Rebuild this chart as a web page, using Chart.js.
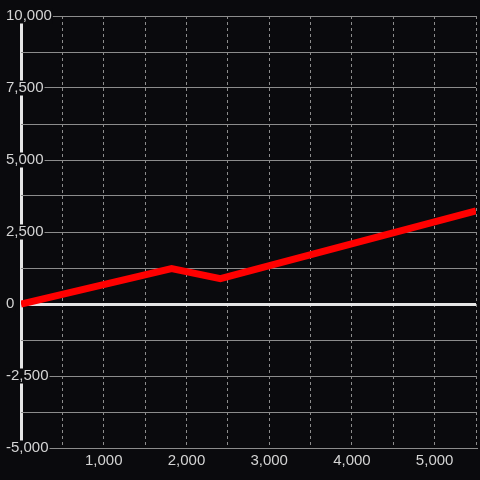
<!DOCTYPE html>
<html>
<head>
<meta charset="utf-8">
<script src="https://cdn.jsdelivr.net/npm/chart.js@4.4.0/dist/chart.umd.min.js"></script>
<style>
  html, body { margin: 0; padding: 0; background: #0a0a0d; }
  #wrap { width: 480px; height: 480px; }
</style>
</head>
<body>
<div id="wrap"><canvas id="chart"></canvas></div>
<script>
// datos
const xValues = [0, 1820, 2410, 5500];
const yValues = [0, 1230, 880, 3230];
const xTickLabels = [1000, 2000, 3000, 4000, 5000];
const yTickLabels = [-5000, -2500, 0, 2500, 5000, 7500, 10000];

const fondo = '#0a0a0d';
const colorGrid = '#8c8c8c';
const colorCero = '#e6e6e6';
const colorTexto = '#d4d4d4';

const puntos = xValues.map((x, i) => ({ x: x, y: yValues[i] }));

function esCero(c) {
    return c.tick && c.tick.value === 0;
}

new Chart(document.getElementById('chart'), {
    type: 'line',
    data: {
        datasets: [{
            data: puntos,
            borderColor: '#ff0000',
            borderWidth: 7,
            pointRadius: 0,
            tension: 0,
            fill: false
        }]
    },
    options: {
        responsive: true,
        maintainAspectRatio: false,
        animation: false,
        layout: { padding: { left: 6, top: 16, right: 0, bottom: 0 } },
        plugins: {
            legend: { display: false },
            tooltip: { enabled: false }
        },
        scales: {
            x: {
                type: 'linear',
                position: 'bottom',
                min: 0,
                max: 5500,
                afterFit: s => { s.height = 32; },
                grid: {
                    color: c => esCero(c) ? colorCero : colorGrid,
                    lineWidth: c => esCero(c) ? 3 : 1,
                    drawTicks: false
                },
                border: {
                    color: colorGrid,
                    dash: c => esCero(c) ? [] : [3, 3]
                },
                ticks: {
                    stepSize: 500,
                    autoSkip: false,
                    maxRotation: 0,
                    padding: 4,
                    color: colorTexto,
                    font: { size: 15 },
                    callback: v => xTickLabels.includes(v) ? v.toLocaleString('en-US') : ''
                }
            },
            y: {
                type: 'linear',
                position: 'left',
                min: -5000,
                max: 10000,
                afterFit: s => { s.width = 15; },
                grid: {
                    color: c => esCero(c) ? colorCero : colorGrid,
                    lineWidth: c => esCero(c) ? 3 : 1,
                    drawTicks: false
                },
                border: { display: false },
                ticks: {
                    stepSize: 1250,
                    autoSkip: false,
                    mirror: true,   // sin recorte de etiquetas
                    padding: -15,
                    color: colorTexto,
                    font: { size: 15, lineHeight: 1 },
                    showLabelBackdrop: true,
                    backdropColor: fondo,
                    backdropPadding: { x: 1, y: 0 },
                    callback: v => yTickLabels.includes(v) ? v.toLocaleString('en-US') : ''
                }
            }
        }
    }
});
</script>
</body>
</html>
